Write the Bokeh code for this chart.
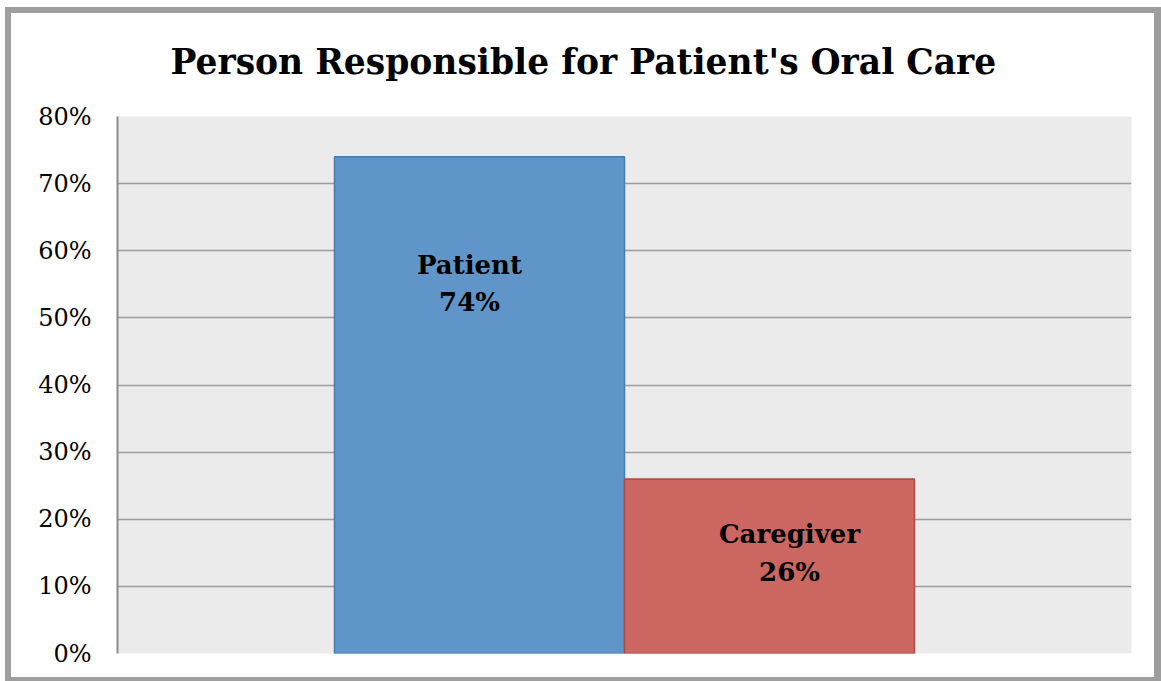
from bokeh.plotting import figure
from bokeh.models import (ColumnDataSource, FactorRange, Range1d, NumeralTickFormatter,
                          FixedTicker, Title)
from bokeh.transform import dodge
from bokeh.core.properties import value
from bokeh.embed import file_html
from bokeh.resources import INLINE

# ---- data ----
group = ["Oral Care"]
series = ["Patient", "Caregiver"]
shares = [0.74, 0.26]
pct_text = ["74%", "26%"]
y_ticks = [0.0, 0.1, 0.2, 0.3, 0.4, 0.5, 0.6, 0.7, 0.8]
chart_title = "Person Responsible for Patient's Oral Care"

# ---- styles ----
fills = ["#6095C9", "#CC6660"]
edges = ["#4A7AB0", "#A94C48"]
dodges = [-0.143, 0.143]
name_dx = [-10, 20]
name_dy = [108, 55]
pct_dy = [145, 93]
FONT = "DejaVu Serif"

W, H = 1161, 681
p = figure(width=W, height=H, x_range=FactorRange(factors=group, range_padding=0),
           y_range=Range1d(0, 0.8), output_backend="svg", toolbar_location=None,
           min_border_left=117, min_border_right=30, min_border_top=116, min_border_bottom=28)
p.background_fill_color = "#EBEBEB"
p.border_fill_color = None
p.outline_line_color = None
p.styles = {"background-color": "white",
            "box-shadow": "inset 5px 7px 0 0 white, inset 11px 13px 0 0 #9E9E9E, "
                          "inset -7px -4px 0 0 #9E9E9E"}

for i, s in enumerate(series):
    src = ColumnDataSource(dict(cat=group, val=[shares[i]], name=[s], pct=[pct_text[i]]))
    xx = dodge("cat", dodges[i], range=p.x_range)
    p.vbar(x=xx, top="val", bottom=0, width=0.286, source=src,
           fill_color=fills[i], line_color=edges[i], line_width=1.5)
    p.text(x=xx, y="val", text="name", source=src, x_offset=name_dx[i], y_offset=name_dy[i],
           text_align="center", text_baseline="middle", text_font=value(FONT),
           text_font_style="bold", text_font_size="26px", text_color="black")
    p.text(x=xx, y="val", text="pct", source=src, x_offset=name_dx[i], y_offset=pct_dy[i],
           text_align="center", text_baseline="middle", text_font=value(FONT),
           text_font_style="bold", text_font_size="26px", text_color="black")

p.xaxis.visible = False
p.xgrid.grid_line_color = None
p.ygrid.grid_line_color = "#9C9C9C"
p.ygrid.grid_line_width = 1.5
p.yaxis.ticker = FixedTicker(ticks=y_ticks)
p.yaxis.formatter = NumeralTickFormatter(format="0%")
p.yaxis.axis_line_color = "#8C8C8C"
p.yaxis.axis_line_width = 2
p.yaxis.major_tick_line_color = None
p.yaxis.minor_tick_line_color = None
p.yaxis.major_tick_out = 0
p.yaxis.major_label_standoff = 26
p.yaxis.major_label_text_font = FONT
p.yaxis.major_label_text_font_size = "24px"
p.yaxis.major_label_text_color = "black"

p.title = Title(text=chart_title, align="left", offset=53, vertical_align="bottom",
                standoff=70, text_font=FONT, text_font_style="bold",
                text_font_size="34.5px", text_color="black")

open("out.html", "w").write(file_html(p, INLINE))
